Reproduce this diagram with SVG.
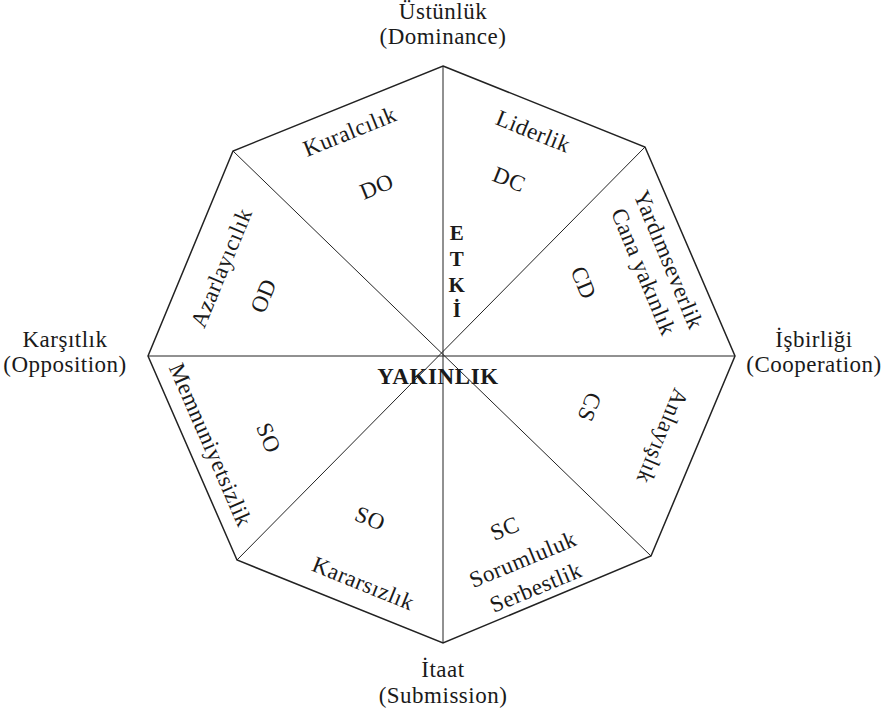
<svg xmlns="http://www.w3.org/2000/svg" width="883" height="712" viewBox="0 0 883 712">
<style>
  text { font-family: "Liberation Serif", "DejaVu Serif", serif; font-size: 23px; fill: #1a1a1a; letter-spacing: 0.5px; }
  .c { text-anchor: middle; }
  .b { font-weight: bold; }
  .edge { fill: none; stroke: #222; stroke-width: 1.5; }
  .spoke { stroke: #222; stroke-width: 1; }
</style>
<rect width="883" height="712" fill="#fff"/>
<g id="octagon">
  <polygon class="edge" points="443,66 645,147 735,356 651,556 443,643 237,560 148,356 233,151"/>
</g>
<g id="connectors">
  <line class="spoke" x1="443" y1="66" x2="443" y2="643"/>
  <line class="spoke" x1="148" y1="356" x2="735" y2="356"/>
  <line class="spoke" x1="233" y1="151" x2="651" y2="556"/>
  <line class="spoke" x1="645" y1="147" x2="237" y2="560"/>
</g>
<g id="dominance"><text class="c" x="443" y="19">Üstünlük</text><text class="c" x="443" y="44">(Dominance)</text></g>
<g id="submission"><text class="c" x="443" y="677">İtaat</text><text class="c" x="443" y="703">(Submission)</text></g>
<g id="opposition"><text class="c" x="65" y="347">Karşıtlık</text><text class="c" x="65" y="372">(Opposition)</text></g>
<g id="cooperation"><text class="c" x="814" y="347">İşbirliği</text><text class="c" x="814" y="372">(Cooperation)</text></g>
<g id="DO">
  <text class="c" transform="translate(350,132) rotate(-22)" y="7">Kuralcılık</text>
  <text class="c" transform="translate(377,187) rotate(-22)" y="7">DO</text>
</g>
<g id="OD">
  <text class="c" transform="translate(222,268) rotate(-67.5)" y="7">Azarlayıcılık</text>
  <text class="c" transform="translate(264,296) rotate(-67.5)" y="7">OD</text>
</g>
<g id="DC">
  <text class="c" transform="translate(533,132) rotate(22)" y="7">Liderlik</text>
  <text class="c" transform="translate(509,180) rotate(22)" y="7">DC</text>
</g>
<g id="CD">
  <text class="c" transform="translate(668,260) rotate(67.5)" y="7">Yardımseverlik</text>
  <text class="c" transform="translate(643,272) rotate(67.5)" y="7">Cana yakınlık</text>
  <text class="c" transform="translate(583,283) rotate(67.5)" y="7">CD</text>
</g>
<g id="CS">
  <text class="c" transform="translate(662,436) rotate(112.5)" y="7">Anlayışlık</text>
  <text class="c" transform="translate(589,407) rotate(112.5)" y="7">CS</text>
</g>
<g id="SC">
  <text class="c" transform="translate(505,529) rotate(-22.5)" y="7">SC</text>
  <text class="c" transform="translate(523,560) rotate(-22.5)" y="7">Sorumluluk</text>
  <text class="c" transform="translate(536,588) rotate(-22.5)" y="7">Serbestlik</text>
</g>
<g id="SO-low">
  <text class="c" transform="translate(370,519) rotate(22)" y="7">SO</text>
  <text class="c" transform="translate(363,584) rotate(22)" y="7">Kararsızlık</text>
</g>
<g id="SO-left">
  <text class="c" transform="translate(210,445) rotate(66.5)" y="7">Memnuniyetsizlik</text>
  <text class="c" transform="translate(268,438) rotate(67.5)" y="7">SO</text>
</g>
<g id="etki">
  <text class="c b" x="457" y="240" style="font-size:21px">E</text>
  <text class="c b" x="457" y="266" style="font-size:21px">T</text>
  <text class="c b" x="457" y="292" style="font-size:21px">K</text>
  <text class="c b" x="457" y="317" style="font-size:21px">İ</text>
</g>
<g id="yakinlik">
  <text class="c b" x="438" y="384" style="letter-spacing:0.6px">YAKINLIK</text>
</g>
</svg>
